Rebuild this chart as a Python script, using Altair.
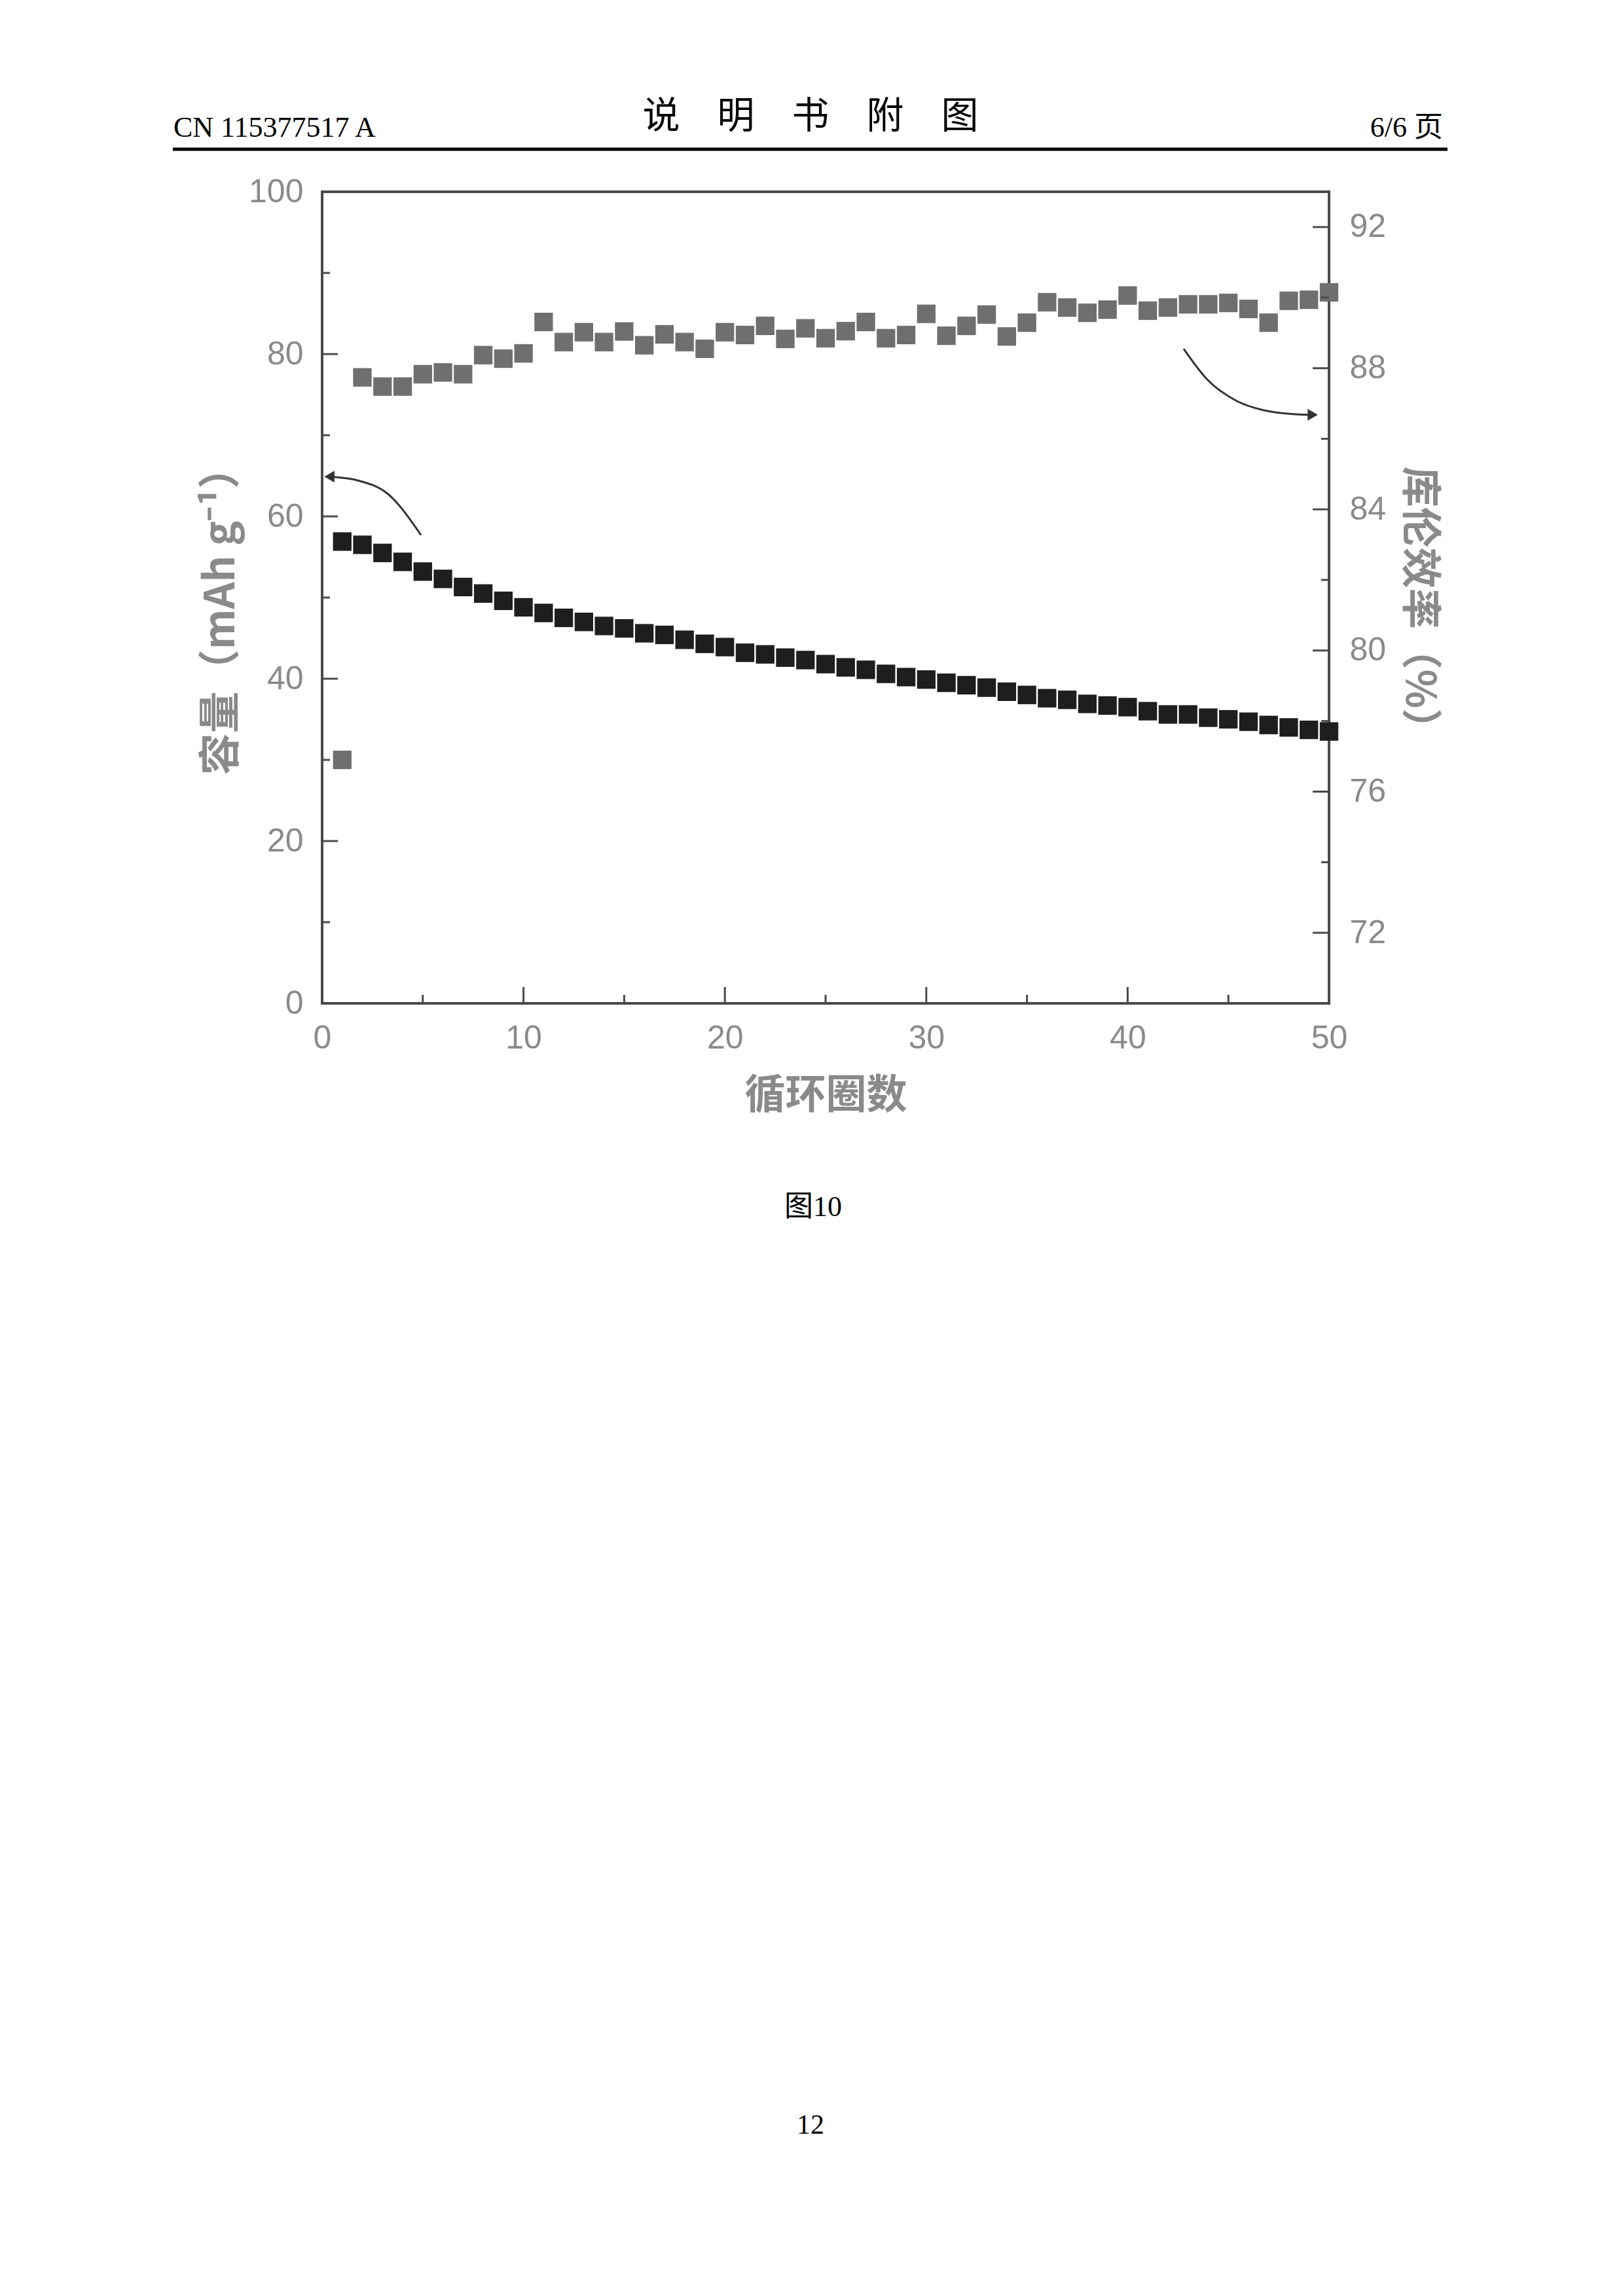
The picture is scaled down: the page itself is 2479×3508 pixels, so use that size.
import altair as alt
import pandas as pd

# ---------------- data ----------------
cycles = list(range(1, 51))
capacity = [56.9, 56.5, 55.5, 54.4, 53.2, 52.3, 51.3, 50.5, 49.6, 48.8,
            48.1, 47.5, 47.0, 46.5, 46.2, 45.6, 45.4, 44.8, 44.3, 43.9,
            43.2, 43.0, 42.6, 42.3, 41.8, 41.4, 41.1, 40.6, 40.2, 39.9,
            39.5, 39.2, 38.9, 38.4, 38.0, 37.6, 37.4, 36.9, 36.7, 36.5,
            36.0, 35.6, 35.6, 35.2, 35.0, 34.7, 34.3, 34.0, 33.7, 33.5]
efficiency = [76.9, 87.74, 87.48, 87.48, 87.83, 87.88, 87.83, 88.37, 88.27, 88.42,
              89.31, 88.74, 89.02, 88.74, 89.04, 88.65, 88.96, 88.74, 88.55, 89.02,
              88.94, 89.20, 88.83, 89.13, 88.85, 89.05, 89.31, 88.85, 88.94, 89.54,
              88.92, 89.20, 89.52, 88.90, 89.29, 89.87, 89.72, 89.57, 89.66, 90.06,
              89.63, 89.72, 89.81, 89.81, 89.85, 89.68, 89.29, 89.91, 89.94, 90.15]

x_major = [0, 10, 20, 30, 40, 50]
x_minor = [5, 15, 25, 35, 45]
cap_major = [0, 20, 40, 60, 80, 100]
cap_minor = [10, 30, 50, 70, 90]
eff_major = [72, 76, 80, 84, 88, 92]
eff_minor = [74, 78, 82, 86, 90]

left_arrow_x = [4.91, 3.25, 1.82, 0.36]
left_arrow_y = [57.7, 62.8, 64.4, 64.9]
right_arrow_x = [42.78, 43.95, 45.42, 46.75, 48.21, 49.19]
right_arrow_y = [88.55, 87.68, 87.07, 86.81, 86.70, 86.68]

header_left = "CN 115377517 A"
header_mid = "说　明　书　附　图"
header_right = "6/6 页"
caption = "图10"
page_no = "12"
x_title = "循环圈数"
y_left_title = "容量（mAh g⁻¹）"
y_right_title = "库伦效率（%）"

# ---------------- styling ----------------
W, H = 1538, 1240
GREY = "#8a8a8a"
AXC = "#4a4a4a"
SANS = "Liberation Sans"
CJK = "Noto Sans CJK SC"
SERIF = "Liberation Serif, Noto Sans CJK SC"

df = pd.DataFrame({"cycle": cycles, "cap": capacity, "eff": efficiency})

x_scale = alt.Scale(domain=[0, 50], nice=False, zero=False)
cap_scale = alt.Scale(domain=[0, 100], nice=False, zero=False)
eff_scale = alt.Scale(domain=[70, 93], nice=False, zero=False)

x_axis = alt.Axis(orient="bottom", values=x_major, ticks=False, domain=False, grid=False,
                  labelFontSize=50, labelColor=GREY, labelFont=SANS, labelPadding=28,
                  labelFlush=False, labelOverlap=False,
                  title=x_title, titleFontSize=62, titleColor=GREY, titleFont=CJK,
                  titleFontWeight="bold", titleY=141, titleBaseline="middle")
cap_axis = alt.Axis(orient="left", values=cap_major, ticks=False, domain=False,
                    grid=False, labelFontSize=50, labelColor=GREY, labelFont=SANS,
                    labelPadding=29, labelOverlap=False,
                    title=y_left_title, titleFontSize=64, titleColor=GREY, titleFont=CJK,
                    titleFontWeight="bold", titleAngle=270, titleX=-154, titleY=640,
                    titleBaseline="middle", titleAlign="center")
eff_axis = alt.Axis(orient="right", values=eff_major, ticks=False, domain=False,
                    grid=False, labelFontSize=50, labelColor=GREY, labelFont=SANS,
                    labelPadding=31, labelOverlap=False,
                    title=y_right_title, titleFontSize=62, titleColor=GREY, titleFont=CJK,
                    titleFontWeight="bold", titleAngle=90, titleX=136, titleY=635,
                    titleBaseline="middle", titleAlign="center")

base = alt.Chart(df)

cap_points = base.mark_square(size=800, filled=True, opacity=1, color="#1e1e1e").encode(
    x=alt.X("cycle:Q", scale=x_scale, axis=x_axis),
    y=alt.Y("cap:Q", scale=cap_scale, axis=cap_axis),
)
eff_points = base.mark_square(size=800, filled=True, opacity=1, color="#6f6f6f").encode(
    x=alt.X("cycle:Q", scale=x_scale, axis=None),
    y=alt.Y("eff:Q", scale=eff_scale, axis=eff_axis),
)


def tick_df(vals):
    return pd.DataFrame({"v": vals})


cap_tick_major = alt.Chart(tick_df(cap_major)).mark_rule(color=AXC, strokeWidth=3).encode(
    y=alt.Y("v:Q", scale=cap_scale, axis=None), x=alt.value(0), x2=alt.value(24))
cap_tick_minor = alt.Chart(tick_df(cap_minor)).mark_rule(color=AXC, strokeWidth=3).encode(
    y=alt.Y("v:Q", scale=cap_scale, axis=None), x=alt.value(0), x2=alt.value(12))
x_tick_major = alt.Chart(tick_df(x_major)).mark_rule(color=AXC, strokeWidth=3).encode(
    x=alt.X("v:Q", scale=x_scale, axis=None), y=alt.value(H), y2=alt.value(H - 25))
x_tick_minor = alt.Chart(tick_df(x_minor)).mark_rule(color=AXC, strokeWidth=3).encode(
    x=alt.X("v:Q", scale=x_scale, axis=None), y=alt.value(H), y2=alt.value(H - 13))
eff_tick_major = alt.Chart(tick_df(eff_major)).mark_rule(color=AXC, strokeWidth=3).encode(
    y=alt.Y("v:Q", scale=eff_scale, axis=None), x=alt.value(W), x2=alt.value(W - 25))
eff_tick_minor = alt.Chart(tick_df(eff_minor)).mark_rule(color=AXC, strokeWidth=3).encode(
    y=alt.Y("v:Q", scale=eff_scale, axis=None), x=alt.value(W), x2=alt.value(W - 12))

la = pd.DataFrame({"x": left_arrow_x, "y": left_arrow_y})
left_arrow = alt.Chart(la).mark_line(color="#333333", strokeWidth=3, interpolate="monotone").encode(
    x=alt.X("x:Q", scale=x_scale, axis=None), y=alt.Y("y:Q", scale=cap_scale, axis=None))
left_head = alt.Chart(la.tail(1)).mark_point(shape="triangle-left", size=320, filled=True,
                                              opacity=1, color="#333333").encode(
    x=alt.X("x:Q", scale=x_scale, axis=None), y=alt.Y("y:Q", scale=cap_scale, axis=None))

ra = pd.DataFrame({"x": right_arrow_x, "y": right_arrow_y})
right_arrow = alt.Chart(ra).mark_line(color="#333333", strokeWidth=3, interpolate="monotone").encode(
    x=alt.X("x:Q", scale=x_scale, axis=None), y=alt.Y("y:Q", scale=eff_scale, axis=None))
right_head = alt.Chart(ra.tail(1)).mark_point(shape="triangle-right", size=320, filled=True,
                                               opacity=1, color="#333333").encode(
    x=alt.X("x:Q", scale=x_scale, axis=None), y=alt.Y("y:Q", scale=eff_scale, axis=None))


def text_layer(text, x, y, size, font, align="center", baseline="alphabetic"):
    return alt.Chart(pd.DataFrame({"t": [text]})).mark_text(
        font=font, fontSize=size, align=align, baseline=baseline, color="black"
    ).encode(text="t:N", x=alt.value(x), y=alt.value(y))


hdr_left = text_layer(header_left, -227, -84, 44, SERIF, align="left")
hdr_mid = text_layer(header_mid, 746, -114, 57, CJK, baseline="middle")
hdr_right = text_layer(header_right, 1712, -84, 44, SERIF, align="right")
hdr_rule = alt.Chart(pd.DataFrame({"a": [0]})).mark_rule(color="black", strokeWidth=5).encode(
    x=alt.value(-228), x2=alt.value(1719), y=alt.value(-65))
cap_text = text_layer(caption, 750, 1565, 44, SERIF)
page_text = text_layer(page_no, 746, 2967, 42, SERIF)

chart = alt.layer(
    cap_points, eff_points,
    cap_tick_major, cap_tick_minor, x_tick_major, x_tick_minor,
    eff_tick_major, eff_tick_minor,
    left_arrow, left_head, right_arrow, right_head,
    hdr_left, hdr_mid, hdr_right, hdr_rule, cap_text, page_text,
).resolve_scale(y="independent").resolve_axis(x="independent", y="independent").properties(
    width=W, height=H,
    autosize=alt.AutoSizeParams(type="none"),
    padding={"left": 484, "top": 285, "right": 420, "bottom": 1900},
).configure(background="white").configure_view(stroke=AXC, strokeWidth=4)

chart.save("out.html", embed_options={"renderer": "svg", "actions": False})
